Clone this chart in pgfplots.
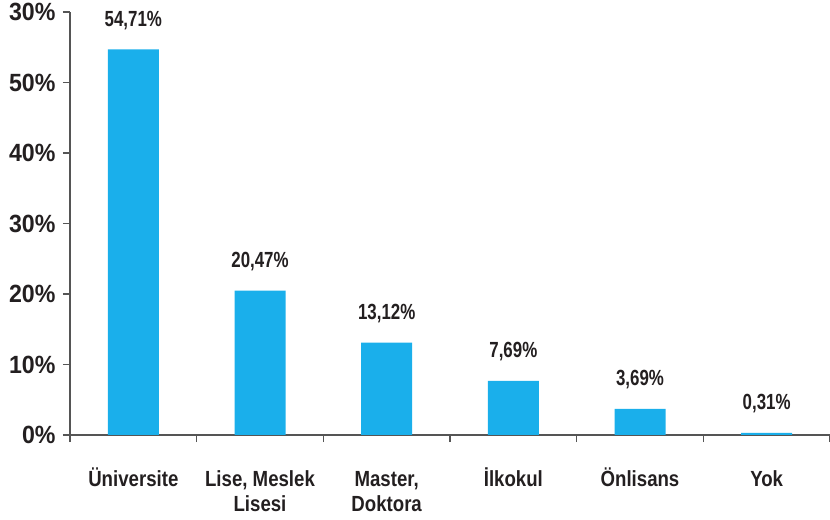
\documentclass[border=0pt]{standalone}
\usepackage{fontspec}
\setmainfont{Liberation Sans}
\newfontfamily\ylabfont[FakeStretch=0.93]{Liberation Sans}
\newfontfamily\barfont[FakeStretch=0.77]{Liberation Sans}
\newfontfamily\catfont[FakeStretch=0.85]{Liberation Sans}
\usepackage{pgfplots}
\pgfplotsset{compat=1.18}
\definecolor{barblue}{RGB}{26,175,235}
\definecolor{txt}{RGB}{35,31,32}
\definecolor{axisgray}{RGB}{85,85,85}
% same first-line height for every category label
\newcommand\cs{\rule{0pt}{21bp}}

\begin{document}
\begin{tikzpicture}
  \begin{axis}[
    at={(70bp,85bp)}, anchor=south west,
    scale only axis,
    width=760bp, height=423bp,
    xmin=-0.5, xmax=5.5,
    ymin=0, ymax=60,
    axis lines=left,
    axis line style={-, axisgray, line width=1.3pt},
    tick style={axisgray, line width=1.1pt},
    tick align=outside,
    major tick length=7bp,
    minor tick length=7bp,
    xtick={0,...,5},
    x tick style={draw=none},
    minor xtick={-0.5,0.5,1.5,2.5,3.5,4.5,5.5},
    minor x tick style={draw=axisgray, line width=1.1pt},
    xticklabels={{\cs Üniversite},{\cs Lise, Meslek\\Lisesi},{\cs Master,\\Doktora},{\cs İlkokul},{\cs Önlisans},{\cs Yok}},
    xticklabel style={font=\catfont\bfseries\fontsize{22}{25}\selectfont, text=txt, align=center, anchor=north, yshift=-20bp},
    ytick={0,10,...,60},
    yticklabels={0\%,10\%,20\%,30\%,40\%,50\%,30\%},
    yticklabel style={font=\ylabfont\bfseries\fontsize{25}{28}\selectfont, text=txt, anchor=east, xshift=-4bp},
    /pgf/number format/assume math mode=true,
    nodes near coords={\pgfmathprintnumber[fixed,fixed zerofill,precision=2,use comma]{\pgfplotspointmeta}\%},
    nodes near coords style={font=\barfont\bfseries\fontsize{22}{26}\selectfont, text=txt, anchor=base, yshift=23bp},
  ]
    \addplot[ybar, bar width=51bp, fill=barblue, draw=none] coordinates {
      (0,54.71)
      (1,20.47)
      (2,13.12)
      (3,7.69)
      (4,3.69)
      (5,0.31)
    };
  \end{axis}
  \pgfresetboundingbox
  \path[use as bounding box] (0,0) rectangle (830bp,520bp);
\end{tikzpicture}
\end{document}
